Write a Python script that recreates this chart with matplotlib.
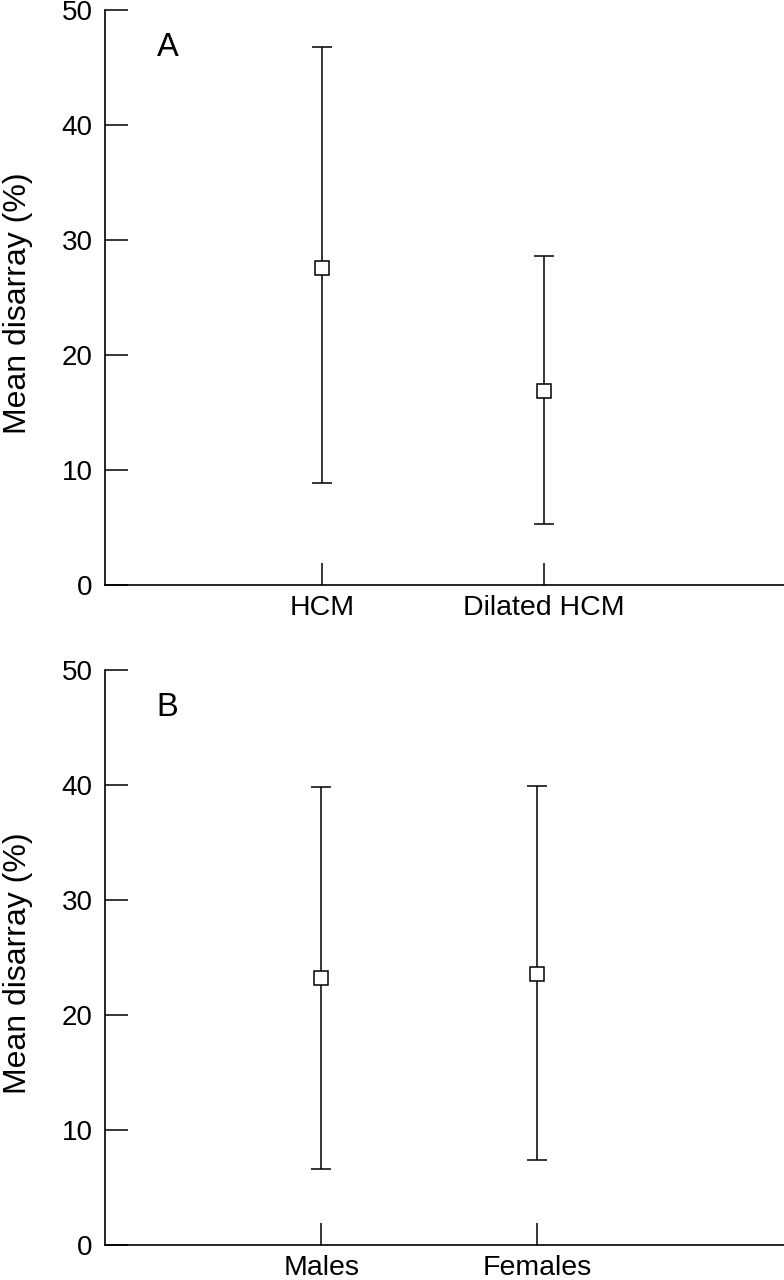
import matplotlib
matplotlib.use("Agg")
import matplotlib.pyplot as plt
import numpy as np

plt.rcParams['font.family'] = ['Liberation Sans', 'DejaVu Sans']

# Panel A data
groups_a = ['HCM', 'Dilated HCM']
mean_a = [27.6, 16.9]
upper_a = [46.8, 28.6]
lower_a = [8.9, 5.3]

# Panel B data
groups_b = ['Males', 'Females']
mean_b = [23.2, 23.6]
upper_b = [39.85, 39.9]
lower_b = [6.6, 7.4]

yticks = [0, 10, 20, 30, 40, 50]

W, H = 784, 1280
fig = plt.figure(figsize=(W / 100, H / 100), dpi=100)

def px_axes(left, top, right, bottom):
    return fig.add_axes([left / W, 1 - bottom / H, (right - left) / W, (bottom - top) / H])

axA = px_axes(105, 10, 784, 585)
axB = px_axes(105, 670, 784, 1245)

def draw(ax, groups, mean, upper, lower, letter, xlim):
    x = np.arange(1, len(groups) + 1)
    m = np.array(mean)
    err = [m - np.array(lower), np.array(upper) - m]
    ax.errorbar(x, m, yerr=err, fmt='s', color='black', ecolor='black',
                elinewidth=1.1, capsize=7.2, capthick=1.1,
                markersize=10, markerfacecolor='white', markeredgecolor='black',
                markeredgewidth=1.1, zorder=3)
    ax.set_xlim(*xlim)
    ax.set_ylim(0, 50)
    ax.set_yticks(yticks)
    ax.set_xticks(x)
    ax.set_xticklabels(groups, fontsize=20.5)
    ax.tick_params(axis='y', direction='in', length=16.5, width=1.1, labelsize=20, pad=9)
    ax.tick_params(axis='x', direction='in', length=16, width=1.1, pad=7)
    for s in ['top', 'right']:
        ax.spines[s].set_visible(False)
    for s in ['left', 'bottom']:
        ax.spines[s].set_linewidth(1.2)
    ax.set_ylabel('Mean disarray (%)', fontsize=23, va='center')
    ax.yaxis.set_label_coords(-0.128, 0.49)
    ax.text(0.092, 0.935, letter, transform=ax.transAxes, fontsize=23.5,
            ha='center', va='center')
    ax.patch.set_alpha(0)

draw(axA, groups_a, mean_a, upper_a, lower_a, 'A', (0.023, 3.08))
draw(axB, groups_b, mean_b, upper_b, lower_b, 'B', (0.0, 3.14))

fig.savefig('out.png', dpi=100, facecolor='white')
